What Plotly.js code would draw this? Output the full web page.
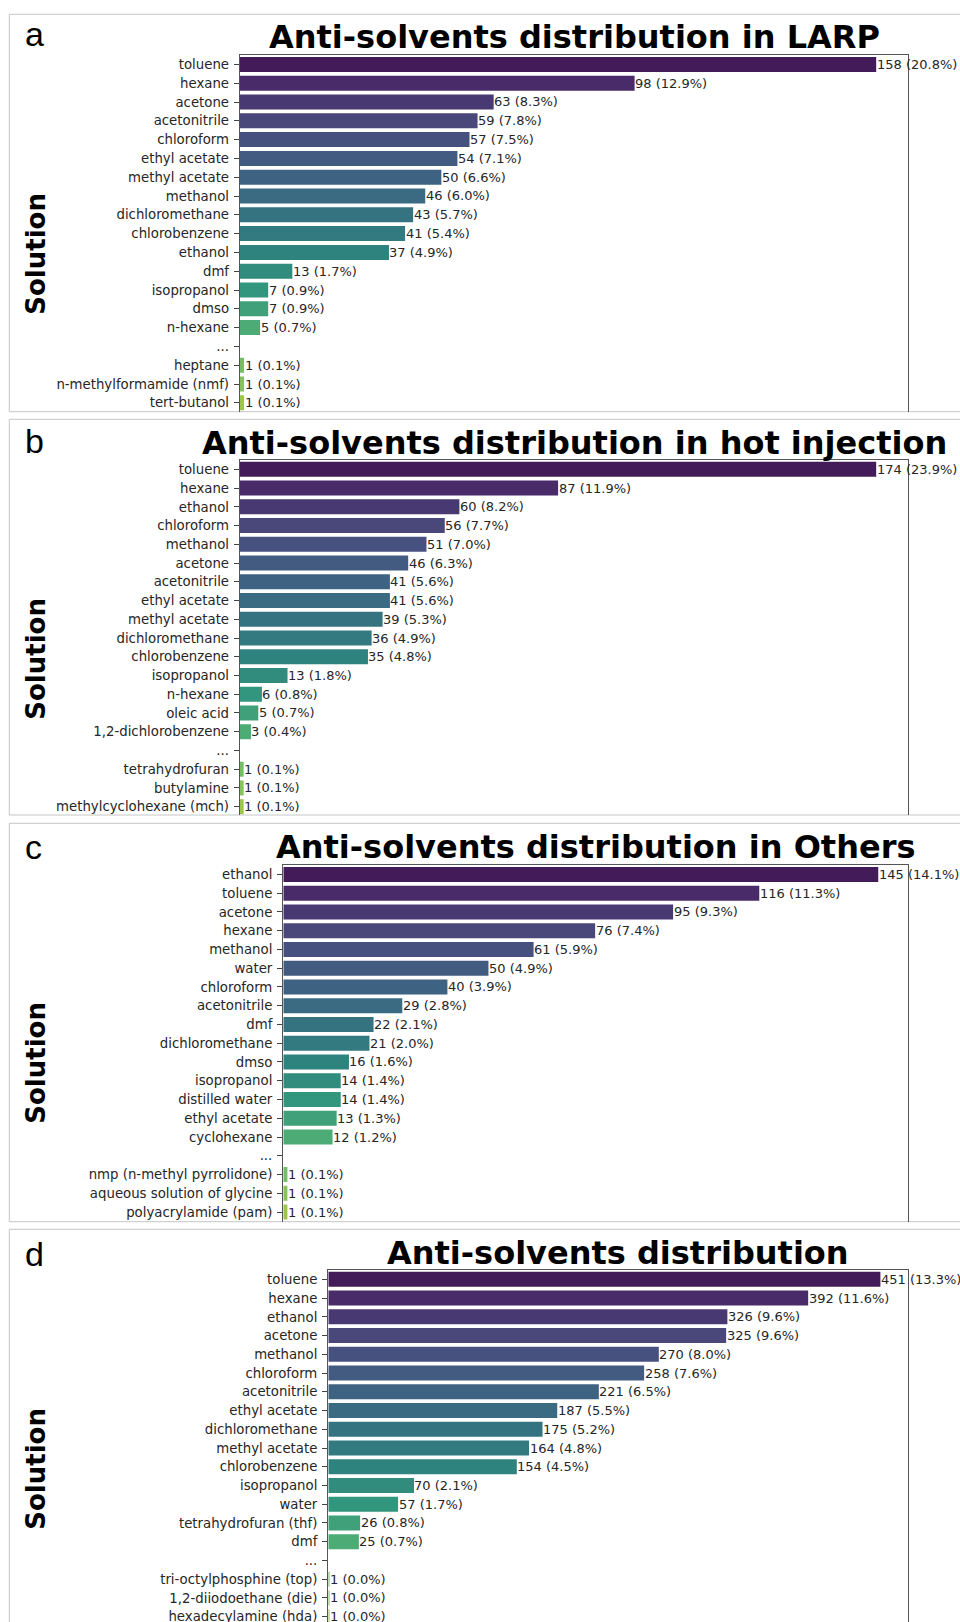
<!DOCTYPE html>
<html>
<head>
<meta charset="utf-8">
<script src="https://cdn.plot.ly/plotly-3.0.1.min.js"></script>
<style>
  html, body { margin: 0; padding: 0; background: #ffffff; }
  #chart { width: 960px; height: 1622px; }
</style>
</head>
<body>
<div id="chart"></div>
<script>
// ---------------- data ----------------
const larpLabels = ["toluene", "hexane", "acetone", "acetonitrile", "chloroform", "ethyl acetate", "methyl acetate", "methanol", "dichloromethane", "chlorobenzene", "ethanol", "dmf", "isopropanol", "dmso", "n-hexane", "...", "heptane", "n-methylformamide (nmf)", "tert-butanol"];
const larpCounts = [158, 98, 63, 59, 57, 54, 50, 46, 43, 41, 37, 13, 7, 7, 5, null, 1, 1, 1];
const larpPercents = [20.8, 12.9, 8.3, 7.8, 7.5, 7.1, 6.6, 6.0, 5.7, 5.4, 4.9, 1.7, 0.9, 0.9, 0.7, null, 0.1, 0.1, 0.1];

const hotLabels = ["toluene", "hexane", "ethanol", "chloroform", "methanol", "acetone", "acetonitrile", "ethyl acetate", "methyl acetate", "dichloromethane", "chlorobenzene", "isopropanol", "n-hexane", "oleic acid", "1,2-dichlorobenzene", "...", "tetrahydrofuran", "butylamine", "methylcyclohexane (mch)"];
const hotCounts = [174, 87, 60, 56, 51, 46, 41, 41, 39, 36, 35, 13, 6, 5, 3, null, 1, 1, 1];
const hotPercents = [23.9, 11.9, 8.2, 7.7, 7.0, 6.3, 5.6, 5.6, 5.3, 4.9, 4.8, 1.8, 0.8, 0.7, 0.4, null, 0.1, 0.1, 0.1];

const othersLabels = ["ethanol", "toluene", "acetone", "hexane", "methanol", "water", "chloroform", "acetonitrile", "dmf", "dichloromethane", "dmso", "isopropanol", "distilled water", "ethyl acetate", "cyclohexane", "...", "nmp (n-methyl pyrrolidone)", "aqueous solution of glycine", "polyacrylamide (pam)"];
const othersCounts = [145, 116, 95, 76, 61, 50, 40, 29, 22, 21, 16, 14, 14, 13, 12, null, 1, 1, 1];
const othersPercents = [14.1, 11.3, 9.3, 7.4, 5.9, 4.9, 3.9, 2.8, 2.1, 2.0, 1.6, 1.4, 1.4, 1.3, 1.2, null, 0.1, 0.1, 0.1];

const allLabels = ["toluene", "hexane", "ethanol", "acetone", "methanol", "chloroform", "acetonitrile", "ethyl acetate", "dichloromethane", "methyl acetate", "chlorobenzene", "isopropanol", "water", "tetrahydrofuran (thf)", "dmf", "...", "tri-octylphosphine (top)", "1,2-diiodoethane (die)", "hexadecylamine (hda)"];
const allCounts = [451, 392, 326, 325, 270, 258, 221, 187, 175, 164, 154, 70, 57, 26, 25, null, 1, 1, 1];
const allPercents = [13.3, 11.6, 9.6, 9.6, 8.0, 7.6, 6.5, 5.5, 5.2, 4.8, 4.5, 2.1, 1.7, 0.8, 0.7, null, 0.0, 0.0, 0.0];

const panelLetters = ["a", "b", "c", "d"];
const panelTitles = [
  "Anti-solvents distribution in LARP",
  "Anti-solvents distribution in hot injection",
  "Anti-solvents distribution in Others",
  "Anti-solvents distribution"
];
const yTitle = "Solution";

// ---------------- colours (viridis sampled like seaborn, desaturated 0.75) ----------------
const viridisStops = ["#440154", "#482475", "#414487", "#355f8d", "#2a788e", "#21918c", "#22a884", "#44bf70", "#7ad151", "#bddf26", "#fde725"];
function hexRgb(h) { return [1, 3, 5].map(i => parseInt(h.substr(i, 2), 16) / 255); }
function viridis(t) {
  const n = viridisStops.length - 1;
  const p = Math.min(Math.max(t, 0), 1) * n;
  const i = Math.min(Math.floor(p), n - 1);
  const f = p - i;
  const a = hexRgb(viridisStops[i]), b = hexRgb(viridisStops[i + 1]);
  return a.map((v, k) => v + (b[k] - v) * f);
}
function rgbToHls(r, g, b) {
  const maxc = Math.max(r, g, b), minc = Math.min(r, g, b);
  const l = (maxc + minc) / 2;
  if (maxc === minc) return [0, l, 0];
  const rc0 = maxc - minc;
  const s = l <= 0.5 ? rc0 / (maxc + minc) : rc0 / (2 - maxc - minc);
  const rc = (maxc - r) / rc0, gc = (maxc - g) / rc0, bc = (maxc - b) / rc0;
  let h;
  if (r === maxc) h = bc - gc; else if (g === maxc) h = 2 + rc - bc; else h = 4 + gc - rc;
  h = ((h / 6) % 1 + 1) % 1;
  return [h, l, s];
}
function hv(m1, m2, hue) {
  hue = ((hue % 1) + 1) % 1;
  if (hue < 1 / 6) return m1 + (m2 - m1) * hue * 6;
  if (hue < 0.5) return m2;
  if (hue < 2 / 3) return m1 + (m2 - m1) * (2 / 3 - hue) * 6;
  return m1;
}
function hlsToRgb(h, l, s) {
  if (s === 0) return [l, l, l];
  const m2 = l <= 0.5 ? l * (1 + s) : l + s - l * s;
  const m1 = 2 * l - m2;
  return [hv(m1, m2, h + 1 / 3), hv(m1, m2, h), hv(m1, m2, h - 1 / 3)];
}
function palette(n) {
  const out = [];
  for (let i = 0; i < n; i++) {
    const c = viridis((i + 1) / (n + 1));
    const [h, l, s] = rgbToHls(c[0], c[1], c[2]);
    const d = hlsToRgb(h, l, s * 0.75);
    out.push("rgb(" + d.map(v => Math.round(v * 255)).join(",") + ")");
  }
  return out;
}
const PALETTE_SIZE = 21;

// ---------------- geometry (pixels) ----------------
const W = 960, H = 1622;
const geo = [
  { top: 14.3,   bot: 411.7,  axL: 240,   axR: 908, axT: 55,   axB: 411.7, row: 18.80, letterY: 46.7 },
  { top: 419.3,  bot: 815.0,  axL: 240,   axR: 908, axT: 460,  axB: 815.0, row: 18.74, letterY: 453.3 },
  { top: 823.3,  bot: 1221.7, axL: 283.3, axR: 908, axT: 865,  axB: 1221.7, row: 18.76, letterY: 860.0 },
  { top: 1229.3, bot: 1640,   axL: 328.3, axR: 908, axT: 1270, axB: 1622, row: 18.74, letterY: 1266.7 }
];
const datasets = [
  [larpLabels, larpCounts, larpPercents],
  [hotLabels, hotCounts, hotPercents],
  [othersLabels, othersCounts, othersPercents],
  [allLabels, allCounts, allPercents]
];

const px = x => x / W;
const py = y => 1 - y / H;

const traces = [];
const layout = {
  width: W, height: H,
  margin: { l: 0, r: 0, t: 0, b: 0, pad: 0 },
  paper_bgcolor: "#ffffff",
  plot_bgcolor: "#ffffff",
  showlegend: false,
  bargap: 0.2,
  annotations: [],
  shapes: []
};

const tickFont = { family: "DejaVu Sans", size: 13.3, color: "#262626" };
const lineCol = "#555555";

datasets.forEach((ds, k) => {
  const [labels, counts, pcts] = ds;
  const g = geo[k];
  const n = k + 1;
  const xa = n === 1 ? "x" : "x" + n;
  const ya = n === 1 ? "y" : "y" + n;
  const maxV = Math.max(...counts.filter(v => v !== null));
  const cols = palette(PALETTE_SIZE).slice(0, labels.length);

  traces.push({
    type: "bar",
    orientation: "h",
    x: counts,
    y: labels,
    xaxis: xa,
    yaxis: ya,
    width: 0.8,
    marker: { color: cols, line: { width: 0 } },
    hoverinfo: "x+y"
  });

  const xKey = n === 1 ? "xaxis" : "xaxis" + n;
  const yKey = n === 1 ? "yaxis" : "yaxis" + n;
  layout[xKey] = {
    domain: [px(g.axL), px(g.axR)],
    anchor: ya,
    side: "top",
    range: [0, maxV * 1.05],
    showgrid: false,
    zeroline: false,
    showline: true,
    linecolor: lineCol,
    linewidth: 1.3,
    ticks: "",
    showticklabels: false,
    fixedrange: true
  };
  const nRowsVisible = (g.axB - g.axT) / g.row;
  layout[yKey] = {
    domain: [py(g.axB), py(g.axT)],
    anchor: xa,
    type: "category",
    categoryorder: "array",
    categoryarray: labels,
    range: [-0.5 + nRowsVisible, -0.5],
    showgrid: false,
    zeroline: false,
    showline: true,
    mirror: true,
    linecolor: lineCol,
    linewidth: 1.3,
    ticks: "outside",
    ticklen: 5,
    tickwidth: 1,
    tickcolor: "#444444",
    tickfont: tickFont,
    ticklabelstandoff: 2,
    fixedrange: true
  };

  // value labels at bar ends
  counts.forEach((v, i) => {
    if (v === null) return;
    layout.annotations.push({
      xref: xa, yref: ya, x: v, y: labels[i],
      text: v + " (" + pcts[i].toFixed(1) + "%)",
      xanchor: "left", yanchor: "middle", showarrow: false,
      xshift: -1.5,
      font: { family: "DejaVu Sans", size: 13, color: "#262626" }
    });
  });

  // panel title
  layout.annotations.push({
    xref: "paper", yref: "paper",
    x: px((g.axL + g.axR) / 2), y: py(g.axT),
    text: "<b>" + panelTitles[k] + "</b>",
    xanchor: "center", yanchor: "bottom", yshift: -3.5, showarrow: false,
    font: { family: "DejaVu Sans", size: 32, color: "#000000" }
  });

  // panel letter
  layout.annotations.push({
    xref: "paper", yref: "paper",
    x: px(22.5), y: py(g.letterY + 8.2),
    text: panelLetters[k],
    xanchor: "left", yanchor: "bottom", showarrow: false,
    font: { family: "Liberation Sans", size: 34, color: "#000000" }
  });

  // y axis title
  layout.annotations.push({
    xref: "paper", yref: "paper",
    x: px(36.5), y: py(g.top + 240),
    text: "<b>" + yTitle + "</b>",
    textangle: -90,
    xanchor: "center", yanchor: "middle", showarrow: false,
    font: { family: "DejaVu Sans", size: 26, color: "#000000" }
  });

  // panel frame
  layout.shapes.push({
    type: "rect", xref: "paper", yref: "paper",
    x0: px(9.3), x1: 1.05, y0: py(g.bot), y1: py(g.top),
    line: { color: "#c6c6c6", width: 1 },
    fillcolor: "rgba(0,0,0,0)",
    layer: "below"
  });
});

Plotly.newPlot("chart", traces, layout, { staticPlot: true, displayModeBar: false });
</script>
</body>
</html>
